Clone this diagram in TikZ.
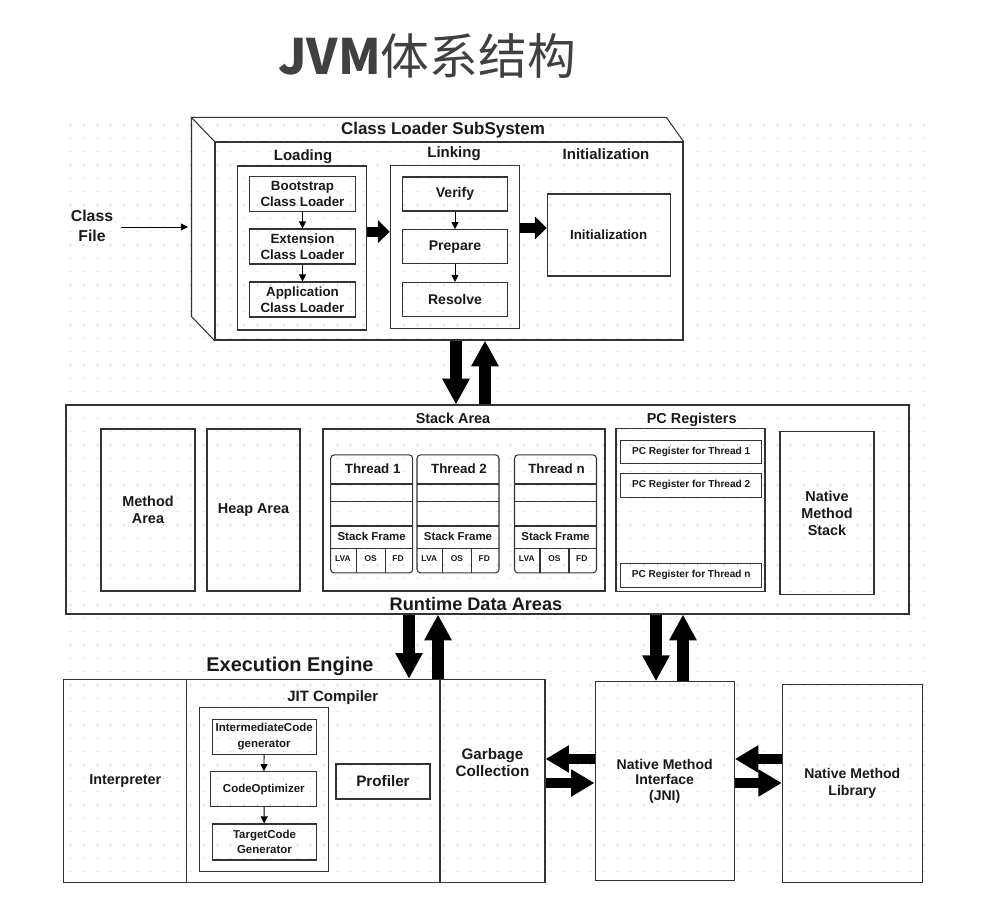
\documentclass[tikz,border=0pt]{standalone}
\usepackage{fontspec}
\setmainfont{Liberation Sans}
\newfontfamily\cjk{Noto Sans CJK SC}
\usetikzlibrary{arrows.meta}

\tikzset{
  boxline/.style={draw=black!80, line width=0.9pt},
  box/.style={boxline, inner sep=0pt, align=center},
  sz/.style 2 args={minimum width=#1*0.03cm, minimum height=#2*0.03cm},
  txt/.style={inner sep=0pt, align=center, text=black!90},
  fhead/.style={txt, font=\bfseries\fontsize{12.8}{15}\selectfont},
  flab/.style={txt, font=\bfseries\fontsize{12.3}{14.2}\selectfont},
  fbox/.style={txt, font=\bfseries\fontsize{11.4}{13.4}\selectfont},
  fsmall/.style={txt, font=\bfseries\fontsize{9.8}{13.4}\selectfont},
  fpc/.style={txt, font=\bfseries\fontsize{8.6}{10}\selectfont},
  ftiny/.style={txt, font=\bfseries\fontsize{7.2}{8}\selectfont},
  thr/.style={boxline, rounded corners=3pt, inner sep=0pt, sz={82}{118}},
  vbig/.style={line width=10pt, -{Triangle[length=22pt,width=22pt]}},
  hbig/.style={line width=8.5pt, -{Triangle[length=20pt,width=22pt]}},
  stubarrow/.style={line width=8.5pt, -{Triangle[length=10pt,width=19pt]}},
  smallarrow/.style={line width=0.8pt, -{Triangle[length=6pt,width=6pt]}},
  griddot/.style={draw=black!22, line width=0.9pt, dash pattern=on 0.9pt off 10.48pt},
}

\begin{document}
\begin{tikzpicture}[x=0.03cm, y=-0.03cm]
  \useasboundingbox (0,0) rectangle (994,902);
  % dotted background
  \foreach \j in {0,...,56}
    \draw[griddot] (70,{125+13.333*\j}) -- (925,{125+13.333*\j});

  \node[txt, text=black!75, font=\cjk\fontsize{41.6}{44}\selectfont] (title) at (427,56) {{\bfseries JVM}体系结构};

  % class loader subsystem
  \node[box, sz={468}{198}] (cls) at (449,241) {};
  \draw[boxline] (cls.north west) -- ++(-23,-24) coordinate (clsb) -- ++(475,0) -- (cls.north east);
  \draw[boxline] (clsb) -- ++(0,199) -- (cls.south west);
  \node[txt, font=\bfseries\fontsize{14.5}{16}\selectfont] (clstitle) at (443,130) {Class Loader SubSystem};

  \node[fhead] (loadlab) at (303,157) {Loading};
  \node[box, sz={129}{164}] (loading) at (302,248) {};
  \node[box, fbox, sz={106}{35}] (boot) at (302.5,194.2) {Bootstrap\\Class Loader};
  \node[box, fbox, sz={106}{35}] (ext) at (302.5,246.5) {Extension\\Class Loader};
  \node[box, fbox, sz={106}{35}] (app) at (302.5,299.5) {Application\\Class Loader};
  \draw[smallarrow] (boot) -- (ext);
  \draw[smallarrow] (ext) -- (app);

  \node[fhead] (linklab) at (454,154) {Linking};
  \node[box, sz={129}{163}] (linking) at (454.7,246.7) {};
  \node[box, fbox, font=\bfseries\fontsize{12}{14}\selectfont, sz={105}{34}] (verify) at (455,194) {Verify};
  \node[box, fbox, font=\bfseries\fontsize{12}{14}\selectfont, sz={105}{34}] (prepare) at (455,246.7) {Prepare};
  \node[box, fbox, font=\bfseries\fontsize{12}{14}\selectfont, sz={105}{34}] (resolve) at (455,299.5) {Resolve};
  \draw[smallarrow] (verify) -- (prepare);
  \draw[smallarrow] (prepare) -- (resolve);

  \node[fhead] (initlab) at (606,154) {Initialization};
  \node[box, fbox, sz={123}{82}] (init) at (608.7,235) {Initialization};

  \coordinate (lk) at (0,231.7);
  \coordinate (li) at (0,228);
  \draw[stubarrow] (loading.east |- lk) -- (linking.west |- lk);
  \draw[stubarrow] (linking.east |- li) -- (init.west |- li);

  \node[txt, font=\bfseries\fontsize{13.5}{17}\selectfont] (clsfile) at (92,226) {Class\\File};
  \coordinate (cfout) at (121,227);
  \coordinate (clsin) at (188,227);
  \draw[smallarrow] (cfout) -- (clsin);

  % runtime data areas
  \node[box, sz={843}{209}] (rda) at (487.5,509.5) {};
  \node[txt, font=\bfseries\fontsize{15.5}{17}\selectfont] (rdalab) at (476,604) {Runtime Data Areas};
  \node[box, flab, sz={94}{162}] (method) at (148,510) {Method\\Area};
  \node[box, flab, sz={93}{162}] (heap) at (253.5,510) {Heap Area};

  \node[flab] (stacklab) at (453,418) {Stack Area};
  \node[box, sz={282}{162}] (stack) at (464,510) {};
  \foreach \nm/\cx/\k in {t1/371.7/1, t2/458/2, tn/555.5/n}{
    \node[thr] (\nm) at (\cx,513.9) {};
    \foreach \ry in {484,501.7,526,548.3}
      \draw[boxline] ({\cx-41},\ry) -- ({\cx+41},\ry);
    \draw[boxline] ({\cx-15.5},548.3) -- ({\cx-15.5},572.7);
    \draw[boxline] ({\cx+13.5},548.3) -- ({\cx+13.5},572.7);
    \node[fbox] (\nm-head) at ({\cx+1},469) {Thread \k};
    \node[fsmall] (\nm-frame) at (\cx,536.7) {Stack Frame};
    \node[ftiny] (\nm-lva) at ({\cx-28.7},559) {LVA};
    \node[ftiny] (\nm-os) at ({\cx-1},559) {OS};
    \node[ftiny] (\nm-fd) at ({\cx+26.3},559) {FD};
  }

  \node[flab] (pclab) at (691.7,420) {PC Registers};
  \node[box, sz={149}{163}] (pc) at (690.5,510) {};
  \node[box, fpc, sz={141}{23}] (pc1) at (691.2,452.3) {PC Register for Thread 1};
  \node[box, fpc, sz={141}{24}] (pc2) at (691.2,485.3) {PC Register for Thread 2};
  \node[box, fpc, sz={141}{24}] (pcn) at (691.2,575.3) {PC Register for Thread n};

  \node[box, flab, sz={94}{163}] (nms) at (827,513.3) {Native\\Method\\Stack};

  \coordinate (a1) at (456,0);
  \coordinate (a2) at (485,0);
  \draw[vbig] (cls.south -| a1) -- (rda.north -| a1);
  \draw[vbig] (rda.north -| a2) -- (cls.south -| a2);

  % execution engine
  \node[txt, font=\bfseries\fontsize{17}{19}\selectfont] (eelab) at (290,666) {Execution Engine};
  \node[box, flab, sz={122.7}{203}] (interp) at (125.3,780.8) {Interpreter};
  \node[box, sz={253.3}{203}] (jit) at (313.3,780.8) {};
  \node[box, txt, font=\bfseries\fontsize{13}{14.8}\selectfont, sz={105}{203}] (gc) at (492.5,780.8) {Garbage\\Collection\\[16pt]};
  \node[fhead] (jitlab) at (332.7,697.3) {JIT Compiler};
  \node[box, sz={129}{164.4}] (jitin) at (263.8,789.5) {};
  \node[box, fsmall, sz={103.7}{35}] (inter) at (264.2,736.8) {IntermediateCode\\generator};
  \node[box, fsmall, sz={105.7}{35}] (opt) at (263.8,789.2) {CodeOptimizer};
  \node[box, fsmall, sz={104.4}{36}] (tgt) at (264.5,842) {TargetCode\\Generator};
  \draw[smallarrow] (inter) -- (opt);
  \draw[smallarrow] (opt) -- (tgt);
  \node[box, txt, font=\bfseries\fontsize{13}{15}\selectfont, sz={94}{35}] (prof) at (383,781.5) {Profiler};

  % native side
  \node[box, flab, font=\bfseries\fontsize{12}{13.4}\selectfont, sz={139.3}{199}] (jni) at (664.7,781.2) {Native Method\\Interface\\(JNI)};
  \node[box, flab, font=\bfseries\fontsize{12}{14}\selectfont, sz={140}{198}] (lib) at (852.3,783.2) {Native Method\\Library};

  \coordinate (a3) at (409,0);
  \coordinate (a4) at (438,0);
  \coordinate (a5) at (656,0);
  \coordinate (a6) at (683,0);
  \draw[vbig] (rda.south -| a3) -- (jit.north -| a3);
  \draw[vbig] (jit.north -| a4) -- (rda.south -| a4);
  \draw[vbig] (rda.south -| a5) -- (jni.north -| a5);
  \draw[vbig] (jni.north -| a6) -- (rda.south -| a6);

  \coordinate (h1) at (0,759);
  \coordinate (h2) at (0,783);
  \draw[hbig] (jni.west |- h1) -- (gc.east |- h1);
  \draw[hbig] (gc.east |- h2) -- (jni.west |- h2);
  \draw[hbig] (lib.west |- h1) -- (jni.east |- h1);
  \draw[hbig] (jni.east |- h2) -- (lib.west |- h2);
\end{tikzpicture}
\end{document}
